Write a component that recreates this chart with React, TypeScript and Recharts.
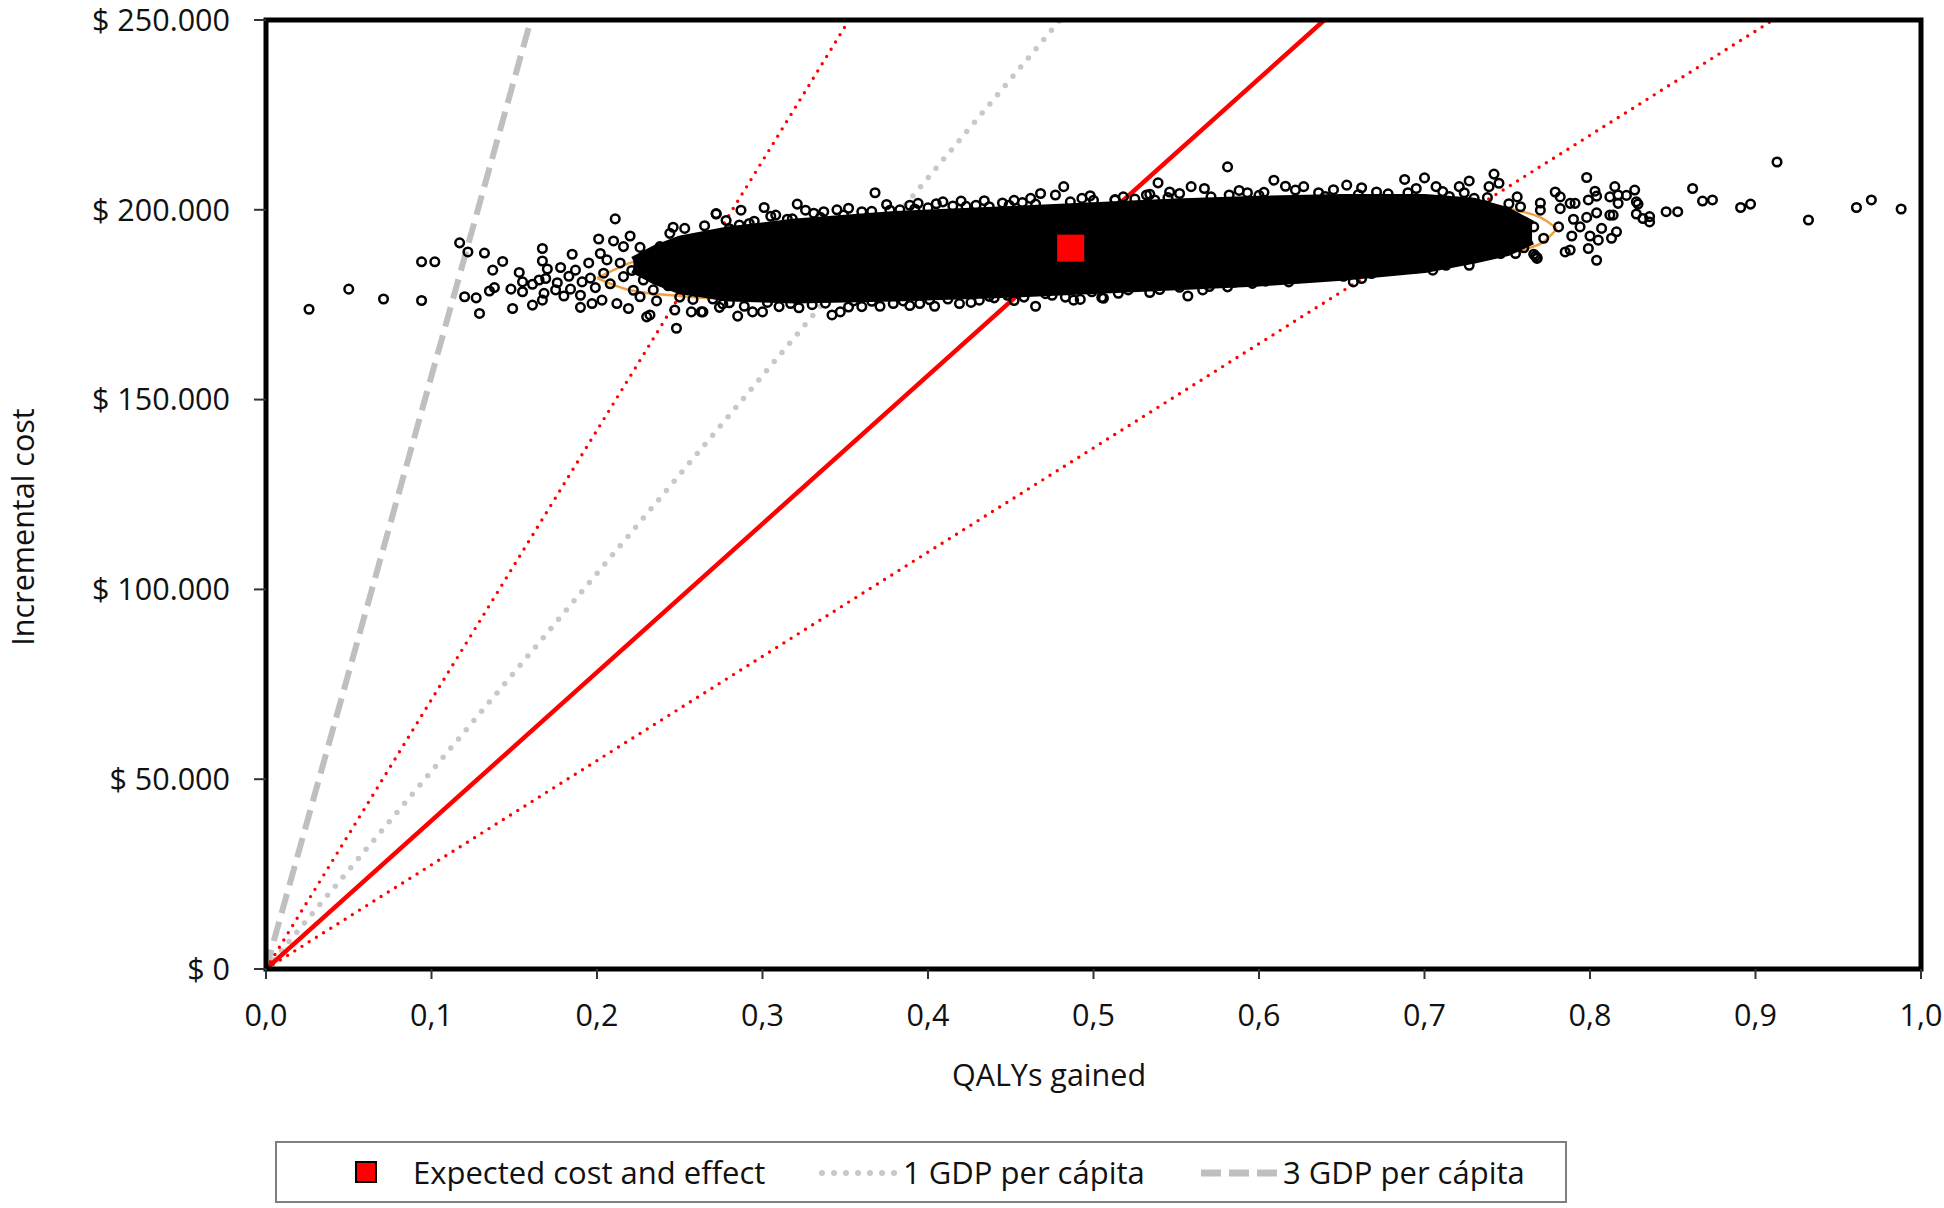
import {
  Area,
  ComposedChart,
  Label,
  ReferenceArea,
  Scatter,
  XAxis,
  YAxis,
} from 'recharts';

const FONT = '"Open Sans", sans-serif';

const X_TICKS = [0, 0.1, 0.2, 0.3, 0.4, 0.5, 0.6, 0.7, 0.8, 0.9, 1.0];
const Y_TICKS = [0, 50000, 100000, 150000, 200000, 250000];

// QALY value where each threshold line meets the $ 250.000 border
const meanIcerEnd = 0.6395;
const icerSteepEnd = 0.3523;
const icerFlatEnd = 0.9106;
const gdp1End = 0.4798;
const gdp3End = 0.16;

const expected = [{ qaly: 0.4862, cost: 189900 }];

// dense centre of the cloud (cost in thousands)
const coreQaly = [0.222, 0.235, 0.25, 0.28, 0.32, 0.38, 0.45, 0.5, 0.55, 0.6, 0.65, 0.7, 0.73, 0.75, 0.765];
const coreLow = [184.5, 181.5, 179, 177, 176.5, 177, 178, 179, 180, 181, 182.5, 184.5, 187, 189, 192];
const coreHigh = [186.5, 189.5, 192, 194.5, 196.5, 198.5, 199.8, 200.8, 201.8, 202.5, 203, 203, 202, 199.5, 196];

// confidence ellipse (mostly hidden under the cloud)
const ellipseQaly = [0.2, 0.22, 0.25, 0.3, 0.35, 0.4, 0.45, 0.5, 0.55, 0.6, 0.65, 0.7, 0.74, 0.77, 0.78];
const ellipseUpper = [182, 186, 189.5, 193.5, 196.3, 198.5, 200.2, 201.6, 202.6, 203.2, 203.4, 202.8, 201, 198, 195];
const ellipseLower = [182, 178.8, 177.3, 176.3, 176.3, 176.8, 177.7, 178.8, 180.2, 181.8, 183.6, 185.8, 188, 191, 195];

// individual PSA draws that stand out from the centre: [QALYs, cost in thousands]
const psaDraws: [number, number][] = [
  [0.026, 173.8], [0.05, 179.1], [0.071, 176.5], [0.094, 186.3], [0.102, 186.3], [0.094, 176.1],
  [0.117, 191.3], [0.122, 188.9], [0.12, 177.1], [0.127, 176.8], [0.129, 172.7], [0.132, 188.6],
  [0.137, 184.1], [0.143, 186.4], [0.135, 178.6], [0.138, 179.5], [0.148, 179.1], [0.149, 174.0],
  [0.153, 183.5], [0.155, 181.0], [0.161, 180.4], [0.155, 178.4], [0.161, 174.9], [0.167, 189.8],
  [0.167, 186.5], [0.17, 184.4], [0.169, 181.9], [0.165, 181.5], [0.168, 178.0], [0.167, 176.2],
  [0.176, 180.8], [0.175, 178.9], [0.18, 177.3], [0.184, 179.1], [0.185, 188.3], [0.187, 184.1],
  [0.19, 177.5], [0.19, 174.3], [0.195, 186.0], [0.197, 175.3], [0.201, 192.3], [0.202, 188.5],
  [0.199, 179.5], [0.203, 176.2], [0.211, 197.6], [0.21, 191.8], [0.22, 193.1], [0.216, 190.3],
  [0.212, 175.3], [0.219, 174.0], [0.226, 190.1], [0.23, 171.8], [0.232, 172.3], [0.248, 168.8],
  [0.246, 195.4], [0.253, 195.1], [0.244, 193.8], [0.247, 173.6], [0.257, 173.1], [0.263, 173.1],
  [0.272, 198.9], [0.204, 183.3], [0.216, 182.4], [0.222, 178.8], [0.226, 177.1], [0.234, 178.9],
  [0.232, 184.1], [0.238, 190.3], [0.208, 180.5], [0.214, 186.0], [0.221, 184.0], [0.228, 181.5],
  [0.229, 187.5], [0.236, 176.0], [0.241, 186.0], [0.243, 180.0], [0.25, 177.0], [0.252, 189.5],
  [0.206, 186.8], [0.196, 182.0], [0.191, 181.0], [0.183, 182.5], [0.178, 184.8],
  [0.272, 199.0], [0.287, 199.9], [0.286, 196.0], [0.301, 200.6], [0.308, 198.6], [0.321, 201.5],
  [0.326, 199.9], [0.337, 199.5], [0.349, 198.6], [0.368, 204.5], [0.377, 199.9], [0.389, 201.2],
  [0.394, 201.7], [0.409, 202.1], [0.42, 202.3], [0.429, 201.2], [0.445, 201.8], [0.457, 201.9],
  [0.468, 204.3], [0.482, 206.1], [0.477, 203.9], [0.493, 203.0], [0.513, 202.7], [0.532, 203.9],
  [0.264, 173.1], [0.274, 174.3], [0.285, 172.0], [0.294, 173.1], [0.3, 173.1], [0.317, 175.3],
  [0.342, 172.3], [0.347, 173.1], [0.36, 174.5], [0.371, 174.6], [0.379, 175.3], [0.395, 175.3],
  [0.404, 174.6], [0.419, 175.3], [0.431, 176.2], [0.448, 177.5], [0.465, 174.6], [0.488, 176.2],
  [0.492, 176.4], [0.505, 176.9], [0.526, 180.2],
  [0.27, 176.5], [0.28, 175.5], [0.31, 174.5], [0.33, 175.0], [0.355, 176.0], [0.385, 176.0],
  [0.412, 176.5], [0.44, 176.8], [0.458, 177.0], [0.475, 177.5], [0.515, 178.0],
  [0.28, 195.0], [0.295, 197.0], [0.315, 197.5], [0.335, 198.0], [0.345, 200.0], [0.36, 199.5],
  [0.383, 200.0], [0.4, 200.5], [0.415, 201.0], [0.437, 200.8], [0.452, 202.5], [0.465, 201.5],
  [0.5, 202.5], [0.525, 202.8], [0.545, 203.2],
  [0.581, 211.3], [0.539, 207.1], [0.513, 202.6], [0.534, 204.1], [0.546, 204.7], [0.559, 206.1],
  [0.567, 205.6], [0.582, 203.9], [0.593, 204.5], [0.609, 207.8], [0.616, 206.2], [0.627, 206.1],
  [0.636, 204.5], [0.653, 206.5], [0.671, 204.7], [0.688, 208.0], [0.7, 208.4], [0.707, 206.1],
  [0.721, 206.1], [0.727, 207.6], [0.742, 209.4], [0.739, 206.1], [0.745, 207.0], [0.756, 203.4],
  [0.77, 201.8],
  [0.506, 176.7], [0.557, 177.3], [0.581, 179.7], [0.596, 180.6], [0.613, 181.9], [0.63, 184.1],
  [0.651, 182.5], [0.657, 181.0], [0.662, 181.9], [0.677, 184.6], [0.705, 184.1], [0.713, 185.4],
  [0.727, 185.4], [0.746, 188.5], [0.755, 188.5], [0.767, 187.8], [0.768, 187.2], [0.697, 186.7],
  [0.724, 187.6], [0.736, 189.4], [0.758, 192.0], [0.772, 192.5], [0.766, 195.5], [0.752, 198.2],
  [0.77, 199.9],
  [0.54, 179.0], [0.57, 179.8], [0.62, 183.0], [0.64, 183.5], [0.685, 185.5], [0.715, 203.5],
  [0.73, 203.0], [0.69, 204.5], [0.66, 204.0], [0.6, 203.8], [0.64, 203.5], [0.735, 200.5],
  [0.748, 194.5], [0.76, 190.0], [0.744, 191.0],
  [0.798, 208.5], [0.815, 206.1], [0.827, 205.2], [0.803, 204.9], [0.804, 203.6], [0.779, 204.7],
  [0.782, 203.4], [0.812, 203.4], [0.817, 203.9], [0.822, 203.8], [0.828, 202.1], [0.829, 201.5],
  [0.788, 201.7], [0.791, 201.7], [0.799, 202.6], [0.804, 199.2], [0.812, 198.6], [0.814, 198.6],
  [0.817, 201.7], [0.828, 198.9], [0.832, 197.7], [0.836, 198.2], [0.836, 196.8], [0.846, 199.5],
  [0.853, 199.5], [0.862, 205.6], [0.868, 202.3], [0.874, 202.6], [0.891, 200.6], [0.897, 201.5],
  [0.913, 212.6], [0.932, 197.3], [0.961, 200.6], [0.97, 202.6], [0.988, 200.2],
  [0.766, 188.3], [0.768, 187.4], [0.785, 188.9], [0.788, 189.4], [0.799, 189.8], [0.804, 186.7],
  [0.805, 192.0], [0.813, 192.5], [0.816, 194.2], [0.8, 193.1], [0.789, 193.1], [0.794, 195.5],
  [0.807, 195.1], [0.781, 195.5], [0.79, 197.5], [0.798, 198.0], [0.782, 200.3], [0.758, 200.8],
  [0.754, 192.9],
  // rim of the dense band
  [0.265, 195.8], [0.278, 197.2], [0.292, 196.4], [0.305, 198.3], [0.318, 197.6], [0.331, 199.1],
  [0.352, 200.4], [0.366, 199.6], [0.375, 201.4], [0.392, 200.2], [0.405, 201.6], [0.423, 200.9],
  [0.434, 202.4], [0.449, 201.2], [0.462, 203.0], [0.486, 202.1], [0.498, 203.7], [0.518, 203.4],
  [0.537, 202.6], [0.552, 204.3], [0.571, 203.4], [0.588, 205.1], [0.603, 204.6], [0.622, 205.2],
  [0.645, 205.3], [0.662, 205.8], [0.678, 204.2], [0.695, 205.6], [0.711, 204.8], [0.724, 204.5],
  [0.738, 203.2], [0.751, 201.6],
  [0.258, 176.4], [0.276, 175.2], [0.289, 174.6], [0.303, 175.6], [0.322, 174.2], [0.338, 175.4],
  [0.352, 174.4], [0.366, 175.9], [0.389, 174.8], [0.401, 176.3], [0.426, 175.6], [0.437, 177.2],
  [0.452, 176.1], [0.471, 177.9], [0.483, 177.0], [0.499, 178.4], [0.521, 178.9], [0.534, 178.2],
  [0.552, 179.6], [0.566, 178.9], [0.585, 180.9], [0.604, 181.2], [0.618, 181.0], [0.636, 182.6],
  [0.646, 183.8], [0.668, 183.2], [0.681, 185.2], [0.694, 184.6], [0.718, 186.8], [0.732, 188.1],
];

const toLine = (end: number) => [
  { qaly: 0, cost: 0 },
  { qaly: end, cost: 250000 },
];

const coreData = coreQaly.map((q, i) => ({ qaly: q, band: [coreLow[i] * 1000, coreHigh[i] * 1000] }));
const ellipseUp = ellipseQaly.map((q, i) => ({ qaly: q, cost: ellipseUpper[i] * 1000 }));
const ellipseDown = ellipseQaly.map((q, i) => ({ qaly: q, cost: ellipseLower[i] * 1000 }));
const drawData = psaDraws.map(([q, c]) => ({ qaly: q, cost: c * 1000 }));

const fmtX = (v: number) => v.toFixed(1).replace('.', ',');
const fmtY = (v: number) => (v === 0 ? '$ 0' : `$ ${(v / 1000).toFixed(0)}.000`);

const tickStyle = { fontFamily: FONT, fontSize: 30.5, fill: '#111' };

function Ring(props: any) {
  return <circle cx={props.cx} cy={props.cy} r={4.3} fill="none" stroke="#000" strokeWidth={2.5} />;
}

function RedSquare(props: any) {
  return <rect x={props.cx - 13.5} y={props.cy - 13.5} width={27} height={27} fill="#ff0000" />;
}

// strokes drawn with Area (no fill) so they stay underneath the cloud
const strokeOnly = { fill: 'none', fillOpacity: 0, dot: false, activeDot: false, isAnimationActive: false } as const;

function ChartLegend() {
  const text = { position: 'absolute' as const, top: 0, lineHeight: '58px', fontSize: 31, fontFamily: FONT, color: '#111' };
  return (
    <div
      style={{
        position: 'absolute',
        left: 275,
        top: 1141,
        width: 1292,
        height: 62,
        border: '2px solid #7f7f7f',
        boxSizing: 'border-box',
        background: '#fff',
      }}
    >
      <div style={{ position: 'absolute', left: 78, top: 18, width: 22, height: 22, background: '#ff0000', border: '2px solid #000', boxSizing: 'border-box' }} />
      <span style={{ ...text, left: 136 }}>Expected cost and effect</span>
      <svg style={{ position: 'absolute', left: 541, top: 0 }} width={82} height={58}>
        <line x1={4} y1={30} x2={78} y2={30} stroke="#c8c8c8" strokeWidth={6} strokeDasharray="0 12" strokeLinecap="round" />
      </svg>
      <span style={{ ...text, left: 626 }}>1 GDP per cápita</span>
      <svg style={{ position: 'absolute', left: 922, top: 0 }} width={80} height={58}>
        <line x1={2} y1={30} x2={78} y2={30} stroke="#bfbfbf" strokeWidth={7} strokeDasharray="20 8" />
      </svg>
      <span style={{ ...text, left: 1006 }}>3 GDP per cápita</span>
    </div>
  );
}

export default function App() {
  return (
    <div style={{ position: 'absolute', left: 0, top: 0, width: 1944, height: 1208, background: '#fff' }}>
      <ComposedChart width={1944} height={1208} margin={{ top: 20, right: 23, bottom: 139, left: 0 }} style={{ overflow: 'visible' }}>
        <XAxis
          type="number"
          dataKey="qaly"
          domain={[0, 1]}
          ticks={X_TICKS}
          tickFormatter={fmtX}
          tick={tickStyle}
          tickSize={10}
          tickMargin={25}
          tickLine={{ stroke: '#333', strokeWidth: 2 }}
          axisLine={false}
          height={100}
          allowDataOverflow
        >
          <Label
            content={() => (
              <text x={1049} y={1074} textAnchor="middle" dominantBaseline="central" style={{ fontFamily: FONT, fontSize: 30.5, fill: '#111' }}>
                QALYs gained
              </text>
            )}
          />
        </XAxis>
        <YAxis
          type="number"
          domain={[0, 250000]}
          ticks={Y_TICKS}
          tickFormatter={fmtY}
          tick={tickStyle}
          tickSize={12}
          tickMargin={24}
          tickLine={{ stroke: '#333', strokeWidth: 2 }}
          axisLine={false}
          width={266}
          allowDataOverflow
        >
          <Label
            content={() => (
              <text
                x={22}
                y={527}
                transform="rotate(-90 22 527)"
                textAnchor="middle"
                dominantBaseline="central"
                style={{ fontFamily: FONT, fontSize: 30.5, fill: '#111' }}
              >
                Incremental cost
              </text>
            )}
          />
        </YAxis>

        <Area data={toLine(gdp3End)} dataKey="cost" type="linear" stroke="#bfbfbf" strokeWidth={6} strokeDasharray="20 9" {...strokeOnly} />
        <Area data={toLine(gdp1End)} dataKey="cost" type="linear" stroke="#c8c8c8" strokeWidth={5.5} strokeDasharray="0 12" strokeLinecap="round" {...strokeOnly} />
        <Area data={toLine(icerSteepEnd)} dataKey="cost" type="linear" stroke="#ff0000" strokeWidth={3.4} strokeDasharray="0 8.5" strokeLinecap="round" {...strokeOnly} />
        <Area data={toLine(icerFlatEnd)} dataKey="cost" type="linear" stroke="#ff0000" strokeWidth={3.4} strokeDasharray="0 8.5" strokeLinecap="round" {...strokeOnly} />
        <Area data={toLine(meanIcerEnd)} dataKey="cost" type="linear" stroke="#ff0000" strokeWidth={4.5} {...strokeOnly} />
        <Area data={ellipseUp} dataKey="cost" type="monotone" stroke="#f0a040" strokeWidth={2.5} {...strokeOnly} />
        <Area data={ellipseDown} dataKey="cost" type="monotone" stroke="#f0a040" strokeWidth={2.5} {...strokeOnly} />

        <Area
          data={coreData}
          dataKey="band"
          type="linear"
          fill="#000"
          fillOpacity={1}
          stroke="#000"
          strokeWidth={9}
          strokeLinejoin="round"
          dot={false}
          activeDot={false}
          isAnimationActive={false}
        />
        <Scatter data={drawData} dataKey="cost" shape={Ring} isAnimationActive={false} />
        <Scatter data={expected} dataKey="cost" shape={RedSquare} isAnimationActive={false} />

        <ReferenceArea x1={0} x2={1} y1={0} y2={250000} fill="none" stroke="#000" strokeWidth={5} ifOverflow="visible" />
      </ComposedChart>
      <ChartLegend />
    </div>
  );
}
